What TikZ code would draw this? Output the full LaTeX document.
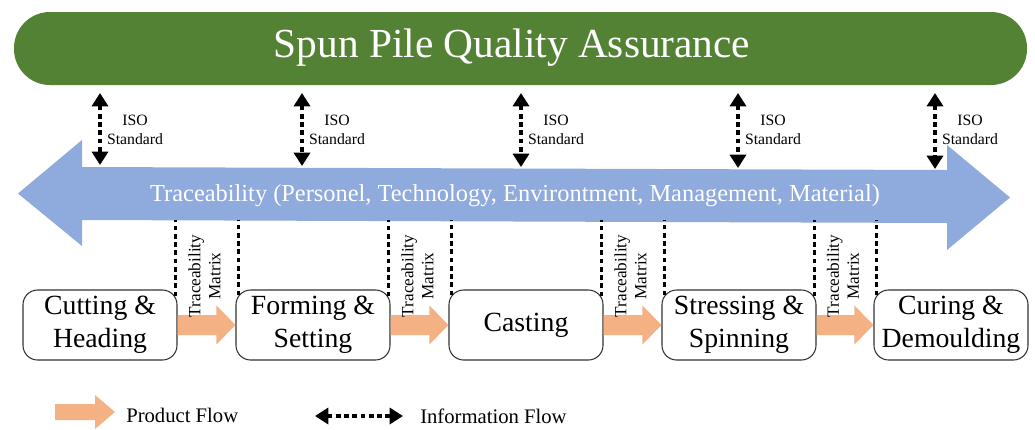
\documentclass[tikz,border=0pt]{standalone}
\usepackage{fontspec}
\setmainfont{Liberation Serif}
\usetikzlibrary{arrows.meta,calc}
\definecolor{qgreen}{HTML}{548235}
\definecolor{tblue}{HTML}{8FAADC}
\definecolor{porange}{HTML}{F4B183}
\begin{document}
\begin{tikzpicture}[x=0.75pt,y=-0.75pt,
  stage/.style={draw=black!80, line width=0.8pt, rounded corners=11pt,
    minimum width=115.5pt, minimum height=52.5pt, align=center,
    font=\fontsize{20.8}{24.5}\selectfont, inner sep=0pt},
  infoarrow/.style={line width=2.8pt, dash pattern=on 3.6pt off 2.6pt,
    {Triangle[width=12pt,length=10pt]}-{Triangle[width=12pt,length=10pt]}},
  tmline/.style={line width=2.8pt, dash pattern=on 3.6pt off 2.6pt},
  isolabel/.style={align=center, font=\fontsize{11.8}{14.25}\selectfont, inner sep=0pt},
  tmlabel/.style={align=center, rotate=90, font=\fontsize{12.9}{15}\selectfont, inner sep=0pt},
  legendtext/.style={anchor=base west, font=\fontsize{15.5}{18}\selectfont, inner sep=0pt},
  ]
\useasboundingbox (0,0) rectangle (1035,429);

% green title bar
\node[fill=qgreen, rounded corners=27pt, minimum width=759.75pt, minimum height=54.75pt, inner sep=0pt] (qa) at (520.5,48.5) {};
\node[text=white, font=\fontsize{31}{36}\selectfont, inner sep=0pt] (title) at (512,48) {Spun Pile Quality Assurance};

% blue double arrow
\fill[tblue] (18,193.5) -- (82,140) -- (82,167) -- (947,170) -- (947,145) -- (1010,197.5)
  -- (947,250) -- (947,223) -- (82,220) -- (82,246) -- cycle;
\node[text=white, font=\fontsize{18.3}{22}\selectfont, inner sep=0pt] (trace) at (515,196)
  {Traceability (Personel, Technology, Environtment, Management, Material)};

% ISO standard arrows
\foreach \i/\x/\yb in {1/100/165,2/302/166,3/521/167,4/738/168,5/935/169}{
  \coordinate (isot\i) at (\x,93);
  \coordinate (isob\i) at (\x,\yb);
  \draw[infoarrow] (isot\i) -- (isob\i);
  \node[isolabel] (isol\i) at (\x+35,129.5) {ISO\\Standard};
}

% process stages
\node[stage] (b1) at (100,325) {Cutting \&\\Heading};
\node[stage] (b2) at (313,325) {Forming \&\\Setting};
\node[stage] (b3) at (526,325) {Casting};
\node[stage] (b4) at (739,325) {Stressing \&\\Spinning};
\node[stage] (b5) at (951,325) {Curing \&\\Demoulding};

% product flow arrows, traceability matrix lines and labels
\foreach \a/\b in {b1/b2,b2/b3,b3/b4,b4/b5}{
  \fill[porange] ($(\a.east)+(0,-10)$) -- ($(\b.west)+(-19,-10)$) -- ($(\b.west)+(-19,-19.5)$)
    -- (\b.west) -- ($(\b.west)+(-19,19.5)$) -- ($(\b.west)+(-19,10)$) -- ($(\a.east)+(0,10)$) -- cycle;
  \draw[tmline] ($(\a.north east)+(-2,7)$) -- ++(0,-76);
  \draw[tmline] ($(\b.north west)+(3,6)$) -- ++(0,-75);
  \node[tmlabel] (tm\a) at ($(\a.east)!0.5!(\b.west)+(-2,-49)$) {Traceability\\Matrix};
}

% legend
\fill[porange] (55,404) -- (95,404) -- (95,395) -- (115,412) -- (95,429) -- (95,420) -- (55,420) -- cycle;
\node[legendtext] (lgp) at (126,422) {Product Flow};
\coordinate (lgia) at (315,416);
\coordinate (lgib) at (403,416);
\draw[infoarrow] (lgia) -- (lgib);
\node[legendtext] (lgi) at (420,423) {Information Flow};
\end{tikzpicture}
\end{document}
